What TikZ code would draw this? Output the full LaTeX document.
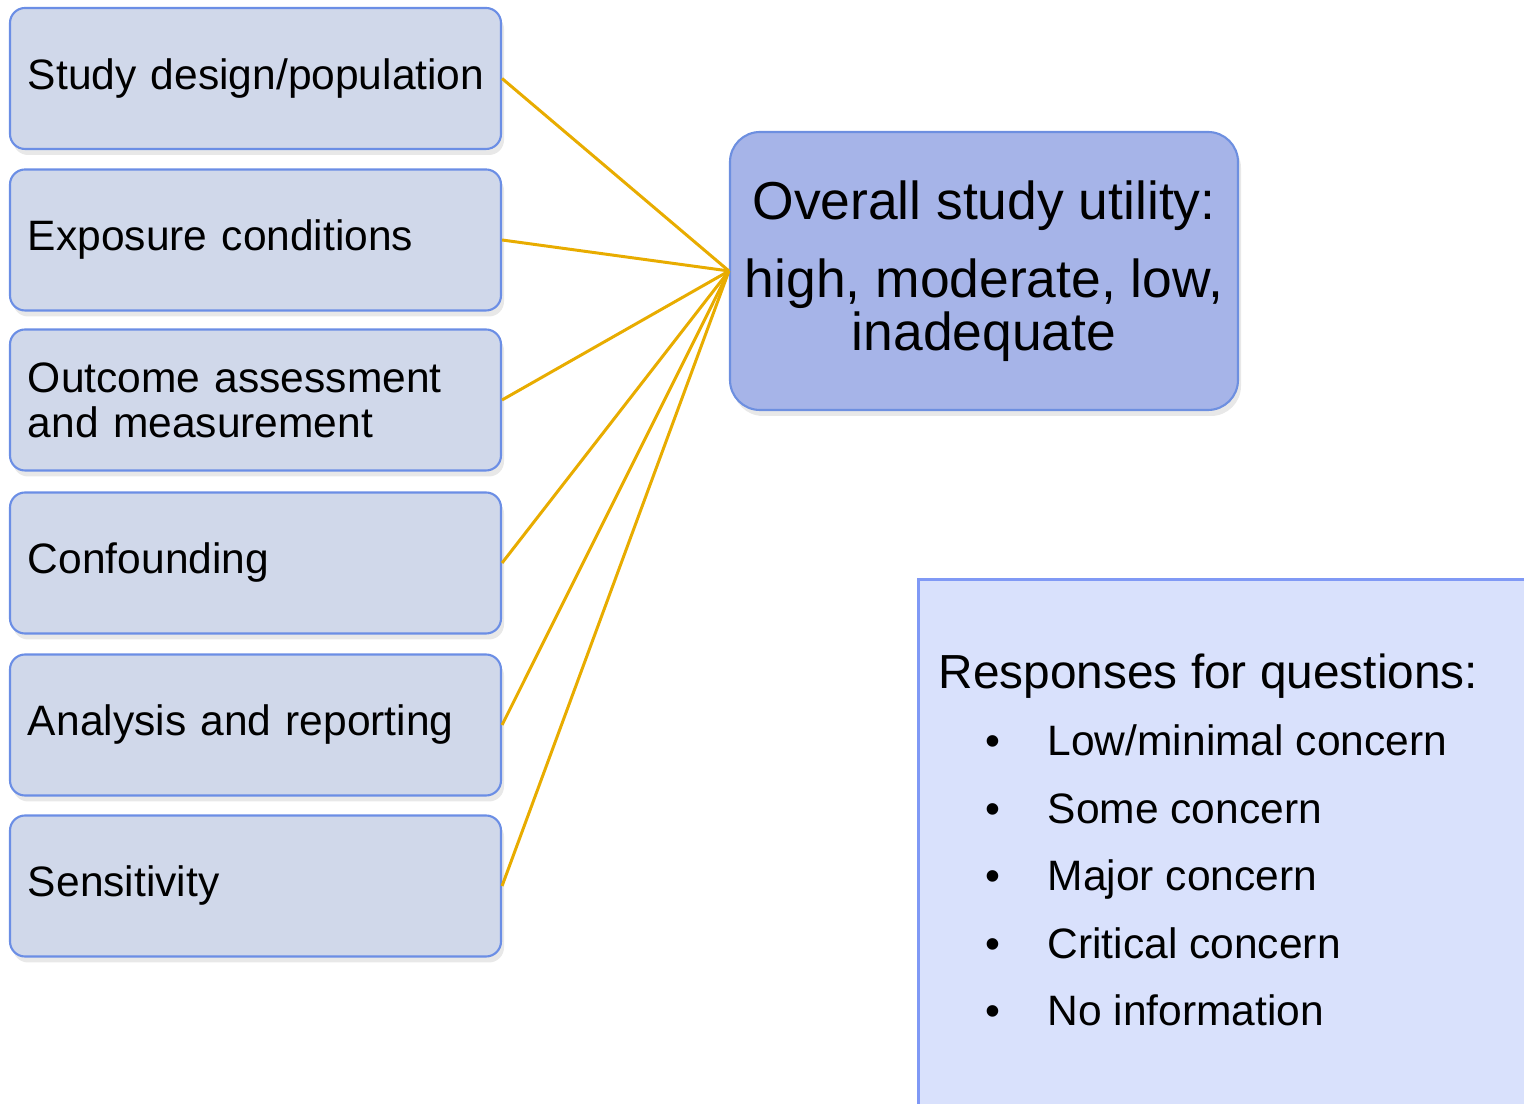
\documentclass[tikz,border=0pt]{standalone}
\usepackage{fontspec}
\setmainfont{Liberation Sans}
\usetikzlibrary{shadows}
\definecolor{critfill}{RGB}{208,216,234}
\definecolor{critline}{RGB}{107,142,229}
\definecolor{utilfill}{RGB}{166,180,232}
\definecolor{utilline}{RGB}{109,143,224}
\definecolor{respfill}{RGB}{217,225,252}
\definecolor{respline}{RGB}{128,153,245}
\definecolor{linkorange}{RGB}{232,172,0}
\def\respitem#1{\fontsize{12.1}{19.2}\selectfont\hspace*{0.47cm}\makebox[0.62cm][l]{\textbullet}#1}

\begin{document}
\begin{tikzpicture}[
  crit/.style={draw=critline, line width=0.6pt, fill=critfill, rounded corners=0.15cm,
    minimum width=4.91cm, minimum height=1.41cm, text width=4.55cm, inner xsep=0.18cm,
    align=left, font=\fontsize{12.1}{12.8}\selectfont,
    drop shadow={opacity=0.18, shadow xshift=0.03cm, shadow yshift=-0.06cm}},
  util/.style={draw=utilline, line width=0.6pt, fill=utilfill, rounded corners=0.3cm,
    minimum width=5.08cm, minimum height=2.78cm, align=center,
    font=\fontsize{15.2}{15.1}\selectfont,
    drop shadow={opacity=0.18, shadow xshift=0.03cm, shadow yshift=-0.06cm}},
  link/.style={draw=linkorange, line width=0.85pt}]
			%%%%% START %%%%%
			
			\useasboundingbox (0, 0) rectangle (15.24, -11.04);
			
			% responses panel, runs off the page
			\begin{scope}
			\clip (0, 0) rectangle (15.24, -11.04);
			\fill[respfill] (9.18, -5.80) rectangle (15.5, -11.3);
			\draw[respline, line width=0.85pt] (15.5, -5.80) -- (9.18, -5.80) -- (9.18, -11.3);
			\end{scope}
			
			\node[anchor=north west, inner sep=0pt, align=left,
			  font=\fontsize{13.6}{19.2}\selectfont] (resp) at (9.38, -6.53)
			  {Responses for questions:\\
			   \respitem{Low/minimal concern}\\
			   \respitem{Some concern}\\
			   \respitem{Major concern}\\
			   \respitem{Critical concern}\\
			   \respitem{No information}};
			
			% domains
			\node[crit] (design) at (2.555, -0.785) {\mbox{Study design/population}};
			\node[crit] (exposure) at (2.555, -2.40) {Exposure conditions};
			\node[crit] (outcome) at (2.555, -4.00) {Outcome assessment\\and measurement};
			\node[crit] (confound) at (2.555, -5.63) {Confounding};
			\node[crit] (analysis) at (2.555, -7.25) {Analysis and reporting};
			\node[crit] (sens) at (2.555, -8.86) {Sensitivity};
			
			\node[util] (utility) at (9.84, -2.71)
			  {Overall study utility:\\[0.25cm]high, moderate, low,\\inadequate};
			
			\draw[link] (design.east) -- (utility.west);
			\draw[link] (exposure.east) -- (utility.west);
			\draw[link] (outcome.east) -- (utility.west);
			\draw[link] (confound.east) -- (utility.west);
			\draw[link] (analysis.east) -- (utility.west);
			\draw[link] (sens.east) -- (utility.west);
			
			%%%%% END %%%%%
\end{tikzpicture}
\end{document}
